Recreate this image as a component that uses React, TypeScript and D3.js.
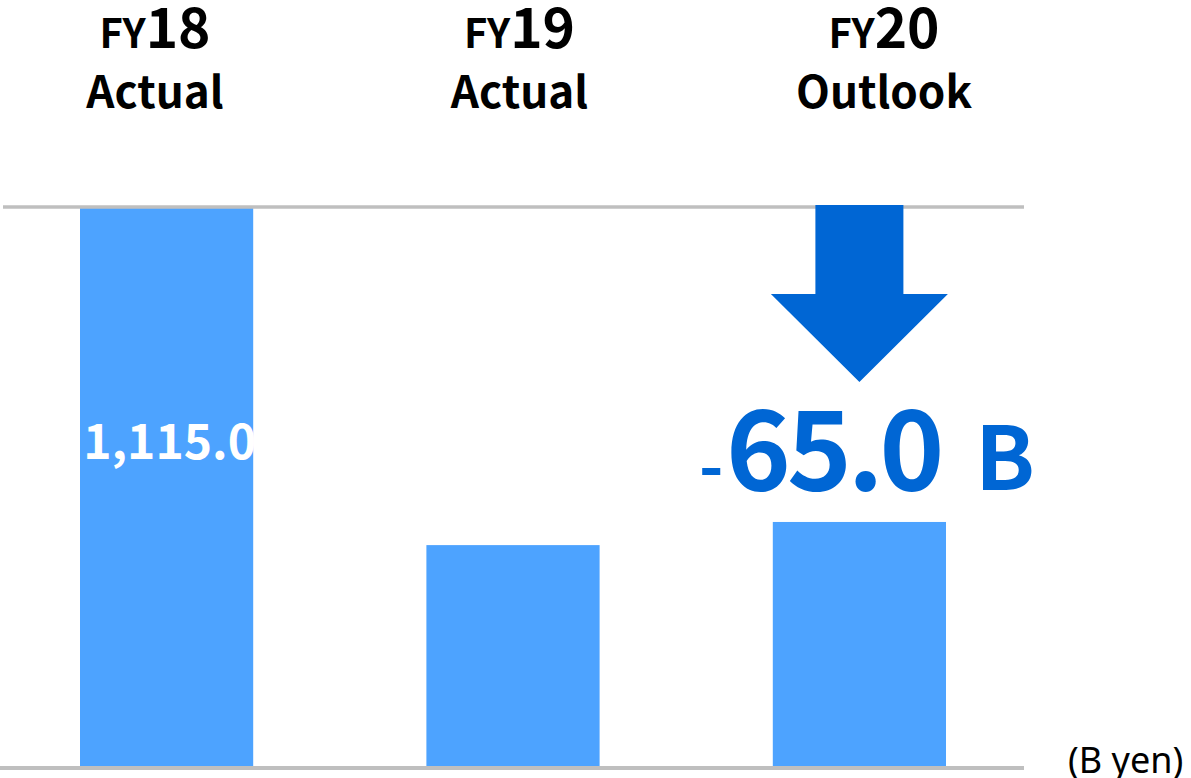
import React from "react";
import * as d3 from "d3";

const categories = ["FY18", "FY19", "FY20"];
const yearPrefix = ["FY", "FY", "FY"];
const yearNumber = ["18", "19", "20"];
const subLabels = ["Actual", "Actual", "Outlook"];
const values = [1115.0, 443, 489];
const valueLabels = ["1,115.0", "", ""];
const changeLabel = { sign: "-", num: "65.0", unit: "B" };
const unitLabel = "(B yen)";

const W = 1191;
const H = 778;
const FONT = "'Noto Sans CJK JP', 'Noto Sans', sans-serif";
const BAR = "#4da3ff";
const ARROW = "#0066d4";
const GRID = "#bfbfbf";

export default function App() {
  const x = d3.scaleBand<string>().domain(categories).range([80, 946]).paddingInner(0.5).paddingOuter(0);
  const head = d3.scalePoint<string>().domain(categories).range([155, 884]);
  const y = d3.scaleLinear().domain([0, 1115]).range([768, 207]);

  const arrowX = (x("FY20") as number) + x.bandwidth() / 2;
  const shaftHalf = 44;
  const headHalf = 88.5;
  const arrowTop = y(1115) - 2;
  const headTop = 294;
  const tip = 382;
  const arrowPath = d3.path();
  arrowPath.moveTo(arrowX - shaftHalf, arrowTop);
  arrowPath.lineTo(arrowX + shaftHalf, arrowTop);
  arrowPath.lineTo(arrowX + shaftHalf, headTop);
  arrowPath.lineTo(arrowX + headHalf, headTop);
  arrowPath.lineTo(arrowX, tip);
  arrowPath.lineTo(arrowX - headHalf, headTop);
  arrowPath.lineTo(arrowX - shaftHalf, headTop);
  arrowPath.closePath();

  return (
    <svg width={W} height={H} style={{ position: "absolute", left: 0, top: 0, display: "block" }} fontFamily={FONT}>
      <rect width={W} height={H} fill="#fff" />
      {categories.map((c, i) => (
        <rect key={c} x={x(c)} y={y(values[i])} width={x.bandwidth()} height={y(0) - y(values[i])} fill={BAR} />
      ))}
      <line x1={3} x2={1024} y1={y(1115)} y2={y(1115)} stroke={GRID} strokeWidth={3.5} />
      <line x1={0} x2={1024} y1={y(0)} y2={y(0)} stroke={GRID} strokeWidth={4} />
      {categories.map((c, i) =>
        valueLabels[i] ? (
          <text key={c + "v"} x={(x(c) as number) + x.bandwidth() / 2 + 3} y={459} textAnchor="middle" fill="#fff" fontWeight={700} fontSize={48}>
            {valueLabels[i]}
          </text>
        ) : null
      )}
      {categories.map((c, i) => (
        <g key={c + "h"}>
          <text x={head(c)} y={48} textAnchor="middle" fontWeight={700} fill="#000">
            <tspan fontSize={40}>{yearPrefix[i]}</tspan>
            <tspan fontSize={55}>{yearNumber[i]}</tspan>
          </text>
          <text x={head(c)} y={108} textAnchor="middle" fontWeight={700} fontSize={44} fill="#000">
            {subLabels[i]}
          </text>
        </g>
      ))}
      <path d={arrowPath.toString()} fill={ARROW} />
      <text y={490} fill={ARROW} fontWeight={700}>
        <tspan x={699} fontSize={66}>{changeLabel.sign}</tspan>
        <tspan x={726} fontSize={110} letterSpacing={-4}>{changeLabel.num}</tspan>
        <tspan x={975} fontSize={88}>{changeLabel.unit}</tspan>
      </text>
      <text x={1068} y={773} fontSize={36} fill="#000" fontFamily="'Noto Sans', sans-serif">
        {unitLabel}
      </text>
    </svg>
  );
}
